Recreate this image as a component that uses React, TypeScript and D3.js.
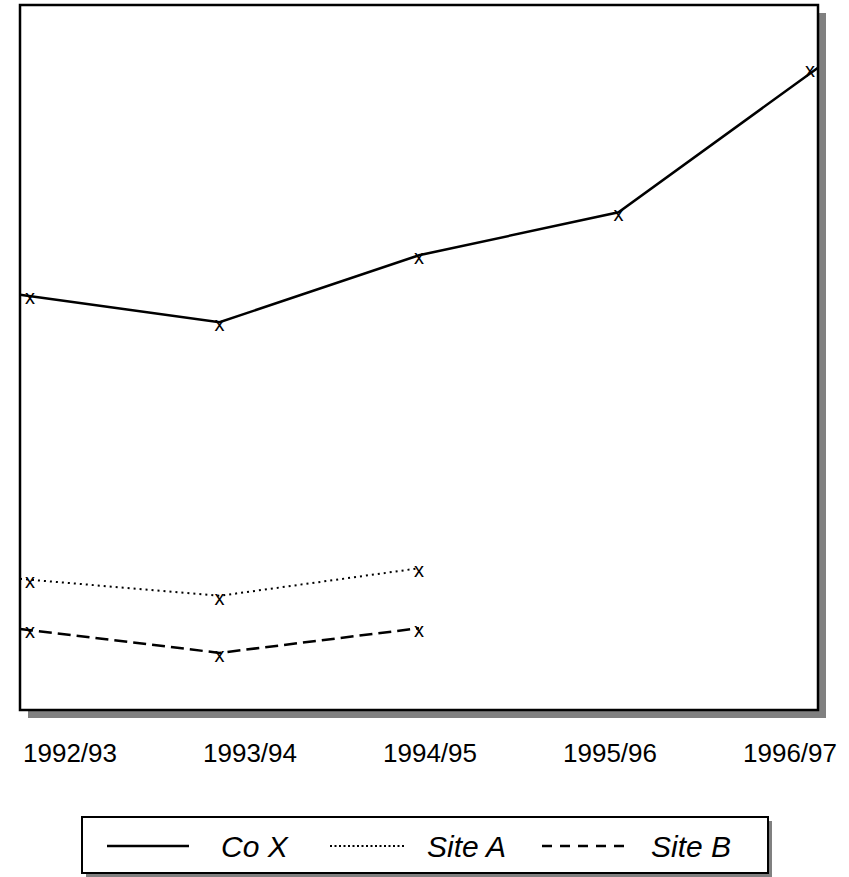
import React from "react";
import * as d3 from "d3";

const categories = ["1992/93", "1993/94", "1994/95", "1995/96", "1996/97"];
const coX = [58.9, 55.0, 64.5, 70.6, 91.1];
const siteA = [18.6, 16.2, 20.1];
const siteB = [11.5, 8.1, 11.6];
const legendNames = ["Co X", "Site A", "Site B"];

const W = 849;
const H = 877;
const frame = { left: 20, top: 5, right: 818, bottom: 710 };

export default function App() {
  const x = d3.scalePoint<string>().domain(categories).range([frame.left, frame.right]);
  const xLabel = d3.scalePoint<string>().domain(categories).range([70, 790]);
  const y = d3.scaleLinear().domain([0, 100]).range([frame.bottom, frame.top]);

  const line = d3
    .line<number>()
    .x((_, i) => x(categories[i]) as number)
    .y((d) => y(d));

  const series = [
    { name: legendNames[0], values: coX, dash: undefined as string | undefined, legendDash: undefined as string | undefined, width: 2.5 },
    { name: legendNames[1], values: siteA, dash: "2,4", legendDash: "2,2.5", width: 2 },
    { name: legendNames[2], values: siteB, dash: "13,6", legendDash: "10,8", width: 2.5 },
  ];

  const font = "Arial, 'Liberation Sans', sans-serif";

  const legendItems = [
    { x1: 107, x2: 189, tx: 221, s: series[0] },
    { x1: 330, x2: 406, tx: 427, s: series[1] },
    { x1: 542, x2: 624, tx: 651, s: series[2] },
  ];

  return (
    <svg
      width={W}
      height={H}
      style={{ position: "absolute", left: 0, top: 0, background: "#fff" }}
    >
      <rect
        x={frame.left + 8}
        y={frame.top + 8}
        width={frame.right - frame.left}
        height={frame.bottom - frame.top}
        fill="#808080"
      />
      <rect
        x={frame.left}
        y={frame.top}
        width={frame.right - frame.left}
        height={frame.bottom - frame.top}
        fill="#fff"
        stroke="#000"
        strokeWidth={2.5}
      />
      {series.map((s) => (
        <path
          key={s.name}
          d={line(s.values) || ""}
          fill="none"
          stroke="#000"
          strokeWidth={s.width}
          strokeDasharray={s.dash}
        />
      ))}
      {series.map((s) =>
        s.values.map((v, i) => {
          const px = Math.min(Math.max(x(categories[i]) as number, frame.left + 10), frame.right - 8);
          return (
            <text
              key={s.name + i}
              x={px}
              y={y(v) + 9}
              textAnchor="middle"
              fontFamily={font}
              fontSize={20}
              fill="#000"
            >
              x
            </text>
          );
        })
      )}
      {categories.map((c) => (
        <text
          key={c}
          x={xLabel(c)}
          y={762}
          textAnchor="middle"
          fontFamily={font}
          fontSize={26}
          fill="#000"
        >
          {c}
        </text>
      ))}
      <rect x={86} y={821} width={686} height={56} fill="#808080" />
      <rect x={82} y={817} width={686} height={56} fill="#fff" stroke="#000" strokeWidth={2} />
      {legendItems.map((it) => (
        <g key={it.s.name}>
          <line
            x1={it.x1}
            x2={it.x2}
            y1={846}
            y2={846}
            stroke="#000"
            strokeWidth={it.s.width}
            strokeDasharray={it.s.legendDash}
          />
          <text
            x={it.tx}
            y={857}
            fontFamily={font}
            fontSize={30}
            fontStyle="italic"
            fill="#000"
          >
            {it.s.name}
          </text>
        </g>
      ))}
    </svg>
  );
}
